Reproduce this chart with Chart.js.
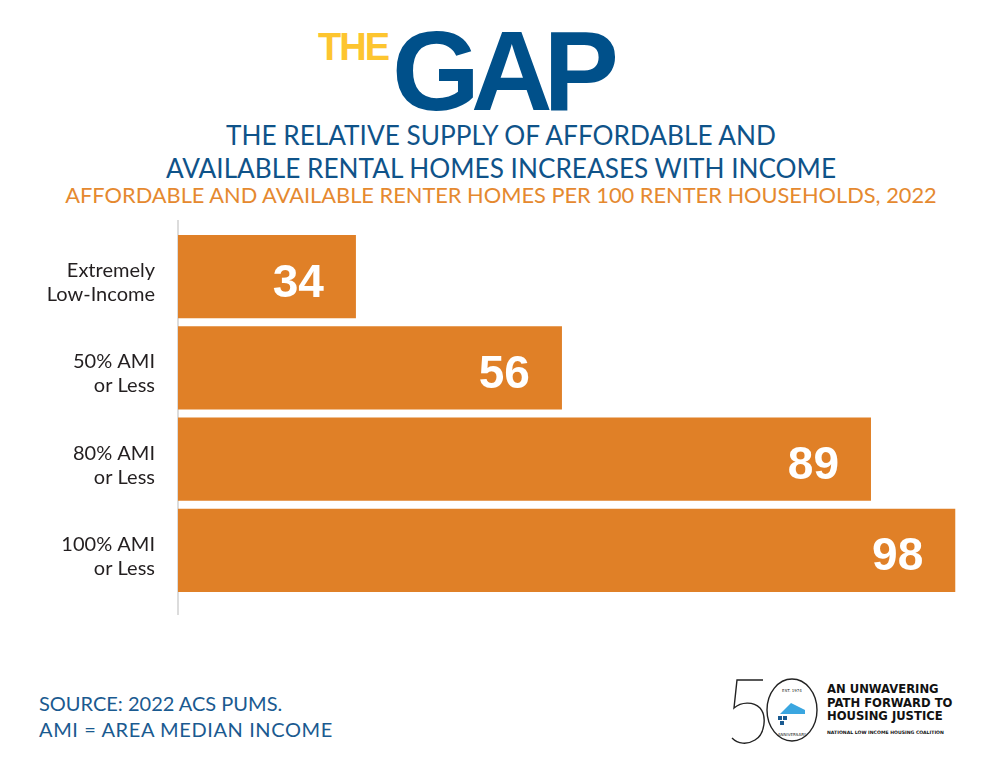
<!DOCTYPE html>
<html>
<head>
<meta charset="utf-8">
<script src="https://cdn.jsdelivr.net/npm/chart.js@4/dist/chart.umd.min.js"></script>
<style>
  body { margin: 0; background: #fff; width: 1002px; height: 777px; position: relative; overflow: hidden; font-family: "Lato", sans-serif; }
  .abs { position: absolute; white-space: nowrap; }
  #the { left: 318px; top: 28px; font: bold 38px/38px "Liberation Sans", sans-serif; color: #fdc52f; letter-spacing: -2px; }
  #gap { left: 392px; top: 15px; font: bold 113px/113px "Liberation Sans", sans-serif; color: #00508a; letter-spacing: -9px; }
  .sub { left: 0; width: 1002px; text-align: center; }
  #sub1, #sub2 { font-size: 26.2px; line-height: 26px; color: #0f5389; }
  #sub1 { top: 122px; }
  #sub2 { top: 155px; }
  #sub3 { top: 184px; font-size: 21.8px; line-height: 22px; color: #e5892f; }
  #foot { left: 39px; top: 690px; font-size: 20px; line-height: 26px; color: #1a5a90; }
  #foot span { letter-spacing: 0.6px; }
  #wrap { left: 0; top: 220px; width: 1002px; height: 395px; }
  #logoText { left: 827px; top: 683px; font: bold 11.6px/13.5px "DejaVu Sans", sans-serif; color: #111; }
  #logoSmall { font: bold 4.6px/6px "DejaVu Sans", sans-serif; }
</style>
</head>
<body>
<div id="the" class="abs">THE</div>
<div id="gap" class="abs">GAP</div>
<div id="sub1" class="abs sub">THE RELATIVE SUPPLY OF AFFORDABLE AND</div>
<div id="sub2" class="abs sub">AVAILABLE RENTAL HOMES INCREASES WITH INCOME</div>
<div id="sub3" class="abs sub">AFFORDABLE AND AVAILABLE RENTER HOMES PER 100 RENTER HOUSEHOLDS, 2022</div>
<div id="wrap" class="abs"><canvas id="myChart"></canvas></div>
<div id="foot" class="abs">SOURCE: 2022 ACS PUMS.<br><span>AMI = AREA MEDIAN INCOME</span></div>

<svg class="abs" style="left:725px;top:672px" width="100" height="80" viewBox="0 0 100 80">
  <path d="M38 8 H12 L9 36 C16 30 28 29 35 36 C42 44 40 62 30 68 C22 73 13 72 7 66" fill="none" stroke="#222" stroke-width="1.4"/>
  <ellipse cx="67" cy="38" rx="25" ry="31" fill="none" stroke="#222" stroke-width="1.4"/>
  <text x="67" y="20" font-size="4" text-anchor="middle" font-family="DejaVu Sans" fill="#222">EST. 1974</text>
  <path d="M55 42 L66 31 L80 38 L80 42 Z" fill="#3aa6e0"/>
  <rect x="53" y="44" width="4" height="4" fill="#1a5a90"/>
  <rect x="58" y="44" width="4" height="4" fill="#1a5a90"/>
  <rect x="55" y="49" width="4" height="4" fill="#1a5a90"/>
  <text x="67" y="64" font-size="4" text-anchor="middle" font-family="DejaVu Sans" fill="#222">ANNIVERSARY</text>
</svg>
<div id="logoText" class="abs">AN UNWAVERING<br>PATH FORWARD TO<br>HOUSING JUSTICE<br><span id="logoSmall">NATIONAL LOW INCOME HOUSING COALITION</span></div>

<script>
const categories = [
    ["Extremely", "Low-Income"],
    ["50% AMI", "or Less"],
    ["80% AMI", "or Less"],
    ["100% AMI", "or Less"],
];
const homesPer100 = [34, 56, 89, 98];
const barColor = "#e08027";

// white numbers drawn inside the end of each bar
const valueLabels = {
    id: "valueLabels",
    afterDatasetsDraw(chart) {
        const ctx = chart.ctx;
        const meta = chart.getDatasetMeta(0);
        ctx.save();
        ctx.fillStyle = "#fff";
        ctx.font = "bold 46px 'Liberation Sans', sans-serif";
        ctx.textAlign = "right";
        ctx.textBaseline = "alphabetic";
        meta.data.forEach((bar, i) => {
            ctx.fillText(homesPer100[i], bar.x - 32, bar.y + 20);
        });
        ctx.restore();
    },
};

// light vertical axis line running a bit past the bars
const axisLine = {
    id: "axisLine",
    beforeDatasetsDraw(chart) {
        const ctx = chart.ctx;
        const x = chart.chartArea.left;
        ctx.save();
        ctx.strokeStyle = "#dcdcdc";
        ctx.lineWidth = 2;
        ctx.beginPath();
        ctx.moveTo(x, 0);
        ctx.lineTo(x, chart.height);
        ctx.stroke();
        ctx.restore();
    },
};

new Chart(document.getElementById("myChart"), {
    type: "bar",
    data: {
        labels: categories,
        datasets: [
            {
                data: homesPer100,
                backgroundColor: barColor,
                categoryPercentage: 1,
                barPercentage: 0.91,
            },
        ],
    },
    options: {
        indexAxis: "y",
        responsive: true,
        maintainAspectRatio: false,
        animation: false,
        layout: { padding: { top: 11, bottom: 19, right: 28, left: 0 } },
        plugins: {
            legend: { display: false },
            tooltip: { enabled: false },
        },
        scales: {
            x: { display: false, min: 15, max: 100 },
            y: {
                grid: { display: false, drawTicks: false },
                border: { display: false },
                ticks: {
                    color: "#231f20",
                    padding: 23,
                    labelOffset: 6,
                    font: { family: "Lato", size: 20, lineHeight: 1.2 },
                },
                afterFit(scale) {
                    scale.width = 178;
                    scale.paddingTop = 0;
                    scale.paddingBottom = 0;
                },
            },
        },
    },
    plugins: [valueLabels, axisLine],
});
</script>
</body>
</html>
